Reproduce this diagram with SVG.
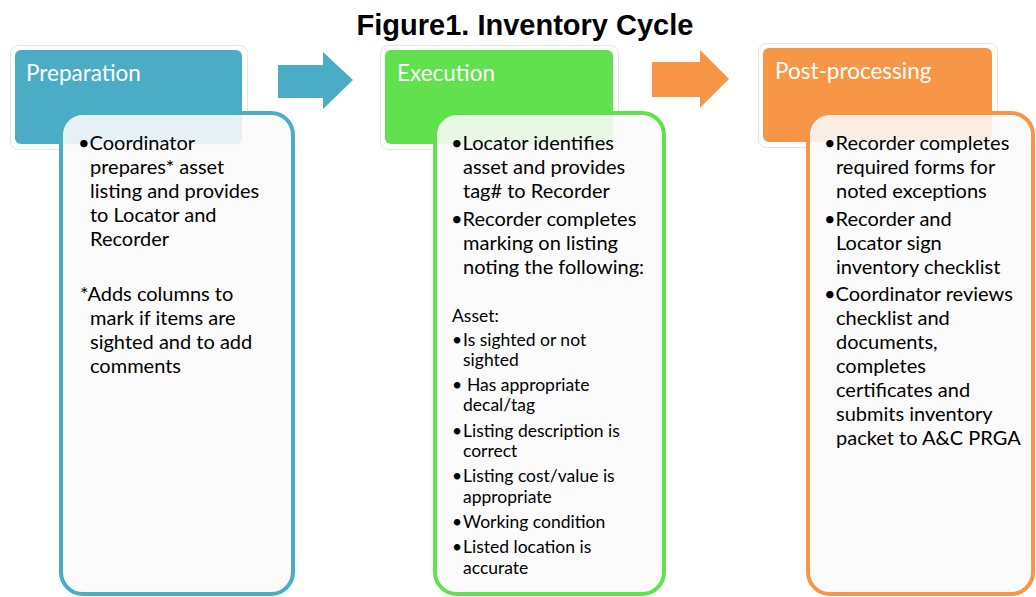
<svg xmlns="http://www.w3.org/2000/svg" width="1036" height="597" viewBox="0 0 1036 597">
<style>
.title{font-family:"Liberation Sans",Arial,sans-serif;font-weight:bold;font-size:29px;fill:#000}
.hd{font-family:Lato,"Open Sans",sans-serif;font-size:22.5px;fill:#fff}
.tx{font-family:Lato,"Open Sans",sans-serif;font-size:20px;fill:#000}
.sm{font-family:Lato,"Open Sans",sans-serif;font-size:17.5px;fill:#000}
.hbo{fill:#fff;stroke:#e4e4e4;stroke-width:1}
.cb{fill:#fafafa;fill-opacity:0.88;stroke-width:4}
</style>
<rect width="1036" height="597" fill="#fff"/>
<text class="title" x="525" y="35" text-anchor="middle">Figure1. Inventory Cycle</text>
<g id="connectors">
<polygon points="278,65 323,65 323,52 353,80 323,109 323,98 278,98" fill="#4bacc6"/>
<polygon points="652,62 700,62 700,50 729,79 700,108 700,97 652,97" fill="#f79646"/>
</g>
<g id="preparation">
<rect x="10.5" y="45.5" width="237" height="104" rx="8" class="hbo"/>
<rect x="15" y="50" width="227" height="94" rx="6" fill="#4bacc6"/>
<text class="hd" x="26" y="81">Preparation</text>
<rect x="61" y="113" width="232" height="481" rx="22" class="cb" stroke="#4bacc6"/>
<text class="tx"><tspan x="78" y="150">•Coordinator</tspan><tspan x="90" y="174">prepares* asset</tspan><tspan x="90" y="198">listing and provides</tspan><tspan x="90" y="222">to Locator and</tspan><tspan x="90" y="246">Recorder</tspan><tspan x="80" y="301">*Adds columns to</tspan><tspan x="90" y="325">mark if items are</tspan><tspan x="90" y="349">sighted and to add</tspan><tspan x="90" y="373">comments</tspan></text>
</g>
<g id="execution">
<rect x="380.5" y="45.5" width="238" height="104" rx="8" class="hbo"/>
<rect x="385" y="50" width="228" height="94" rx="6" fill="#62e14e"/>
<text class="hd" x="397" y="81">Execution</text>
<rect x="435" y="113" width="229" height="481" rx="22" class="cb" stroke="#62e14e"/>
<text class="tx"><tspan x="451" y="150">•Locator identifies</tspan><tspan x="463" y="174">asset and provides</tspan><tspan x="463" y="198">tag# to Recorder</tspan><tspan x="451" y="226">•Recorder completes</tspan><tspan x="463" y="250">marking on listing</tspan><tspan x="463" y="274">noting the following:</tspan></text>
<text class="sm"><tspan x="452" y="322">Asset:</tspan><tspan x="452" y="346">•</tspan><tspan x="463" y="346">Is sighted or not</tspan><tspan x="463" y="366">sighted</tspan><tspan x="452" y="391">•</tspan><tspan x="467" y="391">Has appropriate</tspan><tspan x="463" y="411">decal/tag</tspan><tspan x="452" y="437">•</tspan><tspan x="463" y="437">Listing description is</tspan><tspan x="463" y="457">correct</tspan><tspan x="452" y="482">•</tspan><tspan x="463" y="482">Listing cost/value is</tspan><tspan x="463" y="503">appropriate</tspan><tspan x="452" y="528">•</tspan><tspan x="463" y="528">Working condition</tspan><tspan x="452" y="553">•</tspan><tspan x="463" y="553">Listed location is</tspan><tspan x="463" y="574">accurate</tspan></text>
</g>
<g id="post-processing">
<rect x="758.5" y="43.5" width="239" height="104" rx="8" class="hbo"/>
<rect x="763" y="48" width="229" height="94" rx="6" fill="#f79646"/>
<text class="hd" x="775" y="79">Post-processing</text>
<rect x="808" y="113" width="225" height="481" rx="22" class="cb" stroke="#f79646"/>
<text class="tx"><tspan x="824" y="150">•Recorder completes</tspan><tspan x="836" y="174">required forms for</tspan><tspan x="836" y="198">noted exceptions</tspan><tspan x="824" y="226">•Recorder and</tspan><tspan x="836" y="250">Locator sign</tspan><tspan x="836" y="274">inventory checklist</tspan><tspan x="824" y="301">•Coordinator reviews</tspan><tspan x="836" y="325">checklist and</tspan><tspan x="836" y="349">documents,</tspan><tspan x="836" y="373">completes</tspan><tspan x="836" y="397">certificates and</tspan><tspan x="836" y="421">submits inventory</tspan><tspan x="836" y="445">packet to A&amp;C PRGA</tspan></text>
</g>
</svg>
